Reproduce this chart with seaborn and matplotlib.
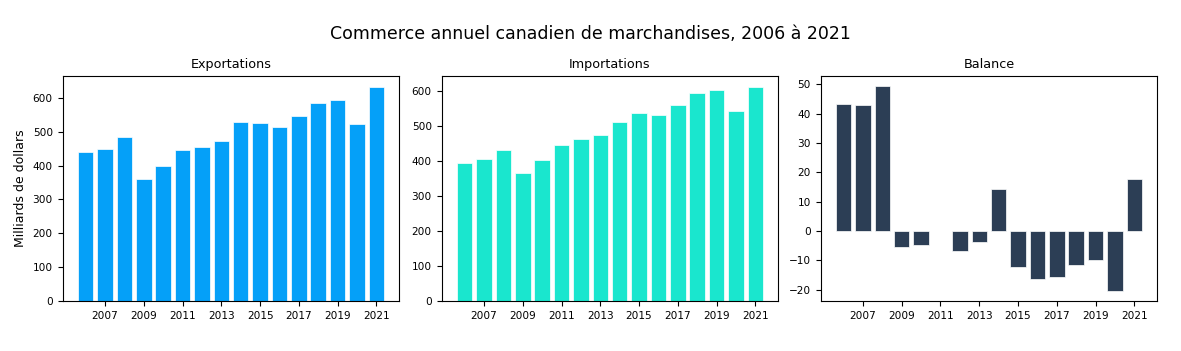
import matplotlib
matplotlib.use("Agg")
import matplotlib.pyplot as plt
import seaborn as sns
import pandas as pd

# Annual values, billions of dollars
years = list(range(2006, 2022))
exports = [439, 450, 483, 360, 399, 446, 455, 471, 527, 524, 515, 545, 585, 592, 522, 632]
imports = [396, 406, 433, 366, 403, 446, 462, 475, 512, 536, 532, 561, 595, 602, 543, 612]
balance = [43.3, 42.9, 49.3, -5.6, -4.9, 0.0, -6.9, -3.8, 14.5, -12.1, -16.4, -15.8, -11.6, -9.9, -20.4, 17.7]

panels = [
    ("Exportations", exports, "#05A0F8"),
    ("Importations", imports, "#1AE6CE"),
    ("Balance", balance, "#2C3E55"),
]

fig, axes = plt.subplots(1, 3, figsize=(11.81, 3.51), dpi=100)
fig.subplots_adjust(left=0.053, right=0.980, top=0.783, bottom=0.142, wspace=0.125)

for ax, (name, values, colour) in zip(axes, panels):
    df = pd.DataFrame({"year": years, "value": values})
    sns.barplot(
        data=df, x="year", y="value", native_scale=True,
        color=colour, saturation=1, width=0.8,
        edgecolor="white", linewidth=0.5, ax=ax,
    )
    ax.set_title(name, fontsize=9.2)
    ax.set_xlabel("")
    ax.set_ylabel("")
    ax.set_xticks(years[1::2])
    ax.tick_params(labelsize=7.6)

axes[0].set_ylabel("Milliards de dollars", fontsize=9)

fig.suptitle("Commerce annuel canadien de marchandises, 2006 à 2021", fontsize=12.5, y=0.93)

plt.savefig("out.png", dpi=100)
